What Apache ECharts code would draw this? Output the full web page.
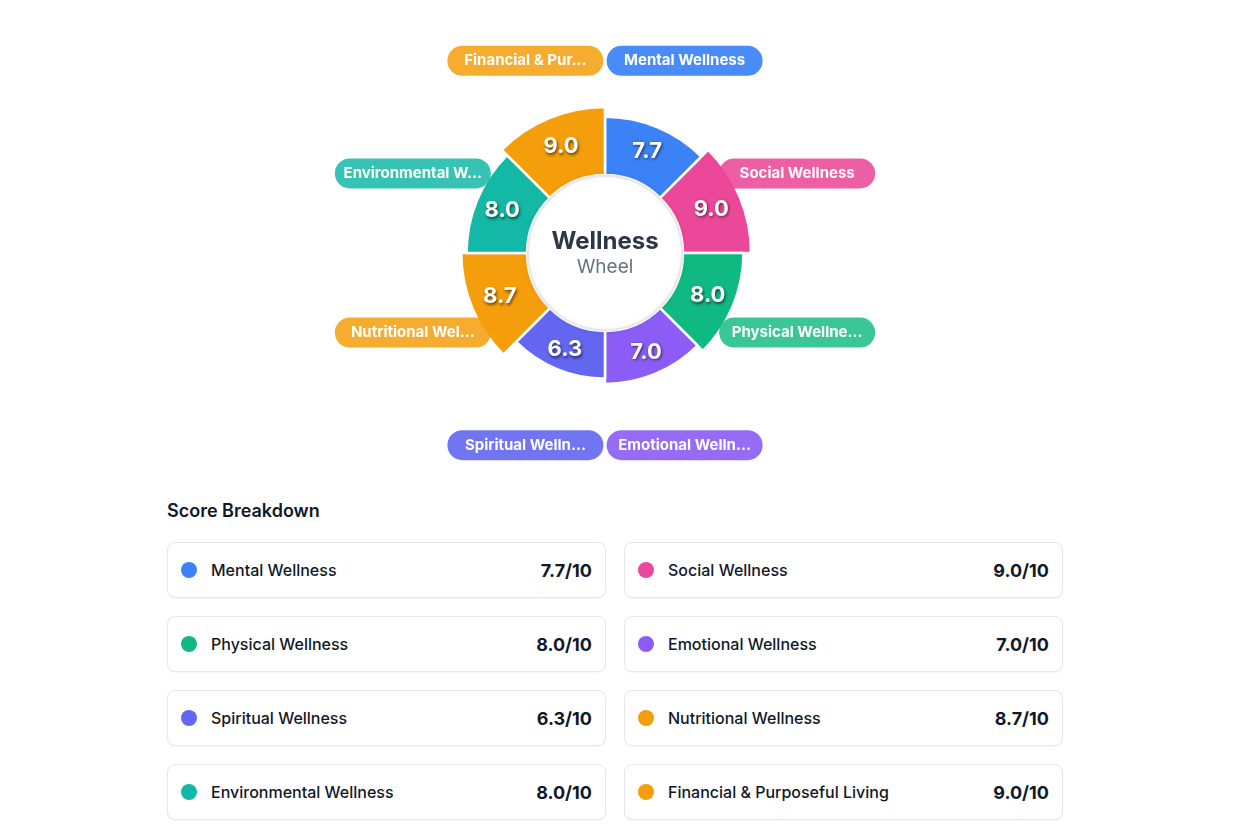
<!DOCTYPE html>
<html>
<head>
<meta charset="utf-8">
<script src="https://cdn.jsdelivr.net/npm/echarts@6/dist/echarts.min.js"></script>
<style>
  html, body { margin: 0; padding: 0; background: #ffffff; font-family: Inter, "Noto Sans", sans-serif; }
  #chart { position: absolute; left: 0; top: 0; width: 1240px; height: 490px; }
  #breakdown { position: absolute; left: 167px; top: 497px; width: 896px; }
  #breakdown h3 { margin: 0; font-size: 18px; font-weight: 600; color: #111827; height: 28px; line-height: 28px; }
  .grid { margin-top: 17px; display: grid; grid-template-columns: 439px 439px; column-gap: 18px; row-gap: 18px; }
  .card { box-sizing: border-box; height: 56px; border: 1px solid #e5e7eb; border-radius: 8px; box-shadow: 0 1px 2px rgba(0,0,0,0.04);
          display: flex; align-items: center; padding: 0 13px 0 13px; background: #fff; }
  .dot { width: 16px; height: 16px; border-radius: 50%; margin-right: 14px; flex: none; }
  .name { font-size: 16px; font-weight: 500; color: #111827; flex: 1; }
  .score { font-size: 18px; font-weight: 700; color: #111827; }
</style>
</head>
<body>
<div id="chart"></div>
<div id="breakdown">
  <h3>Score Breakdown</h3>
  <div class="grid" id="grid"></div>
</div>
<script>
const categories = ['Mental Wellness', 'Social Wellness', 'Physical Wellness', 'Emotional Wellness',
  'Spiritual Wellness', 'Nutritional Wellness', 'Environmental Wellness', 'Financial & Purposeful Living'];
const scores = [7.7, 9.0, 8.0, 7.0, 6.3, 8.7, 8.0, 9.0];
const colors = ['#3b82f6', '#ec4899', '#10b981', '#8b5cf6', '#6366f1', '#f59e0b', '#14b8a6', '#f59e0b'];
const pillColors = ['rgba(59,130,246,0.92)', 'rgba(236,72,153,0.88)', 'rgba(16,185,129,0.82)', 'rgba(139,92,246,0.9)',
  'rgba(99,102,241,0.9)', 'rgba(245,158,11,0.85)', 'rgba(20,184,166,0.85)', 'rgba(245,158,11,0.85)'];
const maxScore = 10;
const maxLabelChars = 15;

const CX = 605, CY = 253;

const chart = echarts.init(document.getElementById('chart'), null, { renderer: 'canvas' });

const roseData = categories.map((n, i) => ({
  name: n, value: scores[i],
  itemStyle: { color: colors[i] }
}));
const labelData = categories.map((n, i) => ({
  name: n, value: 1,
  label: { backgroundColor: pillColors[i] }
}));

chart.setOption({
  animation: false,
  series: [
    {
      type: 'pie',
      roseType: 'area',
      center: [CX, CY],
      radius: [78, 146],
      startAngle: 90,
      clockwise: true,
      silent: true,
      itemStyle: { borderColor: '#ffffff', borderWidth: 2.5 },
      label: {
        show: true,
        position: 'inside',
        formatter: p => p.value.toFixed(1),
        color: '#ffffff',
        fontSize: 22,
        fontWeight: 'bold',
        fontFamily: 'Inter, sans-serif',
        textShadowColor: 'rgba(0,0,0,0.6)',
        textShadowBlur: 3,
        textShadowOffsetX: 1,
        textShadowOffsetY: 1.5
      },
      labelLine: { show: false },
      data: roseData
    },
    {
      type: 'pie',
      center: [CX, CY],
      radius: [197, 213],
      startAngle: 90,
      clockwise: true,
      silent: true,
      itemStyle: { color: 'rgba(0,0,0,0)' },
      label: {
        show: true,
        position: 'inside',
        formatter: p => p.name.length > maxLabelChars ? p.name.slice(0, maxLabelChars) + '...' : p.name,
        color: '#ffffff',
        fontSize: 15,
        fontWeight: 'bold',
        fontFamily: 'Inter, sans-serif',
        width: 140,
        height: 30,
        lineHeight: 30,
        overflow: 'none',
        align: 'center',
        padding: [0, 8],
        borderRadius: 15
      },
      labelLine: { show: false },
      data: labelData
    },
    {
      type: 'pie',
      center: [CX, CY],
      radius: [0, 77],
      silent: true,
      z: 3,
      itemStyle: {
        color: '#ffffff',
        borderColor: '#e5e7eb',
        borderWidth: 2,
        shadowBlur: 6,
        shadowColor: 'rgba(0,0,0,0.08)'
      },
      label: {
        show: true,
        position: 'center',
        formatter: '{a|Wellness}\n{b|Wheel}',
        rich: {
          a: { fontSize: 24, fontWeight: 'bold', color: '#2d3748', fontFamily: 'Inter, sans-serif', lineHeight: 28, padding: [4, 0, 0, 0] },
          b: { fontSize: 19, color: '#6b7280', fontFamily: 'Inter, sans-serif', lineHeight: 26 }
        }
      },
      labelLine: { show: false },
      data: [{ name: 'center', value: 1 }]
    }
  ]
});

const grid = document.getElementById('grid');
categories.forEach((n, i) => {
  const c = document.createElement('div');
  c.className = 'card';
  c.innerHTML = '<span class="dot" style="background:' + colors[i] + '"></span>' +
    '<span class="name">' + n + '</span>' +
    '<span class="score">' + scores[i].toFixed(1) + '/' + maxScore + '</span>';
  grid.appendChild(c);
});
</script>
</body>
</html>
